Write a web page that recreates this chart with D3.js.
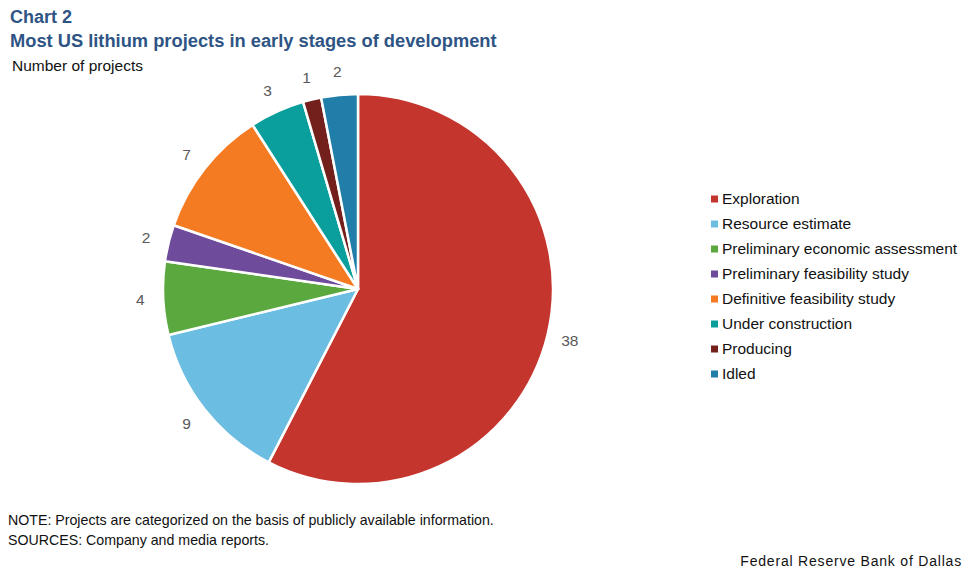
<!DOCTYPE html>
<html>
<head>
<meta charset="utf-8">
<script src="https://cdn.jsdelivr.net/npm/d3@7"></script>
<style>
  body { margin: 0; background: #fff; }
  svg { font-family: "Liberation Sans", Arial, sans-serif; }
</style>
</head>
<body>
<svg id="chart" width="971" height="574"></svg>
<script>
const categories = ["Exploration", "Resource estimate", "Preliminary economic assessment",
  "Preliminary feasibility study", "Definitive feasibility study", "Under construction",
  "Producing", "Idled"];
const projects = [38, 9, 4, 2, 7, 3, 1, 2];
const colors = ["#c4352d", "#6cbde2", "#5ba83f", "#6f4b9c", "#f47b21", "#0a9e9d", "#73201c", "#217ea9"];

const svg = d3.select("#chart");
const cx = 358, cy = 289, r = 195;

// titles
svg.append("text").attr("x", 10).attr("y", 23)
  .attr("font-size", 18).attr("font-weight", "bold").attr("fill", "#2e5485")
  .text("Chart 2");
svg.append("text").attr("x", 10).attr("y", 47)
  .attr("font-size", 18.3).attr("font-weight", "bold").attr("fill", "#2e5485")
  .text("Most US lithium projects in early stages of development");
svg.append("text").attr("x", 12).attr("y", 71)
  .attr("font-size", 15.5).attr("fill", "#111")
  .text("Number of projects");

const data = categories.map((c, i) => ({ name: c, value: projects[i], color: colors[i] }));

const pie = d3.pie().value(d => d.value).sort(null);
const arc = d3.arc().innerRadius(0).outerRadius(r);
const labelArc = d3.arc().innerRadius(r + 23).outerRadius(r + 23);

const g = svg.append("g").attr("transform", `translate(${cx},${cy})`);
const arcs = pie(data);

g.selectAll("path")
  .data(arcs)
  .enter().append("path")
    .attr("d", arc)
    .attr("fill", d => d.data.color)
    .attr("stroke", "#fff")
    .attr("stroke-width", 2.5)
    .attr("stroke-linejoin", "round");

g.selectAll("text.lbl")
  .data(arcs)
  .enter().append("text")
    .attr("class", "lbl")
    .attr("transform", d => `translate(${labelArc.centroid(d)})`)
    .attr("text-anchor", "middle")
    .attr("dy", "0.35em")
    .attr("font-size", 15.5)
    .attr("fill", "#595959")
    .text(d => d.data.value);

// legend
const legend = svg.append("g").attr("transform", "translate(711,199)");
const row = legend.selectAll("g")
  .data(data)
  .enter().append("g")
    .attr("transform", (d, i) => `translate(0,${i * 25})`);
row.append("rect")
  .attr("x", 0).attr("y", -3.5).attr("width", 7).attr("height", 7)
  .attr("fill", d => d.color);
row.append("text")
  .attr("x", 11).attr("dy", "0.35em")
  .attr("font-size", 15.5).attr("fill", "#111")
  .text(d => d.name);

// footer
svg.append("text").attr("x", 8).attr("y", 525)
  .attr("font-size", 14.2).attr("fill", "#111")
  .text("NOTE:  Projects are categorized on the basis of publicly available information.");
svg.append("text").attr("x", 8).attr("y", 545)
  .attr("font-size", 14.2).attr("fill", "#111")
  .text("SOURCES:  Company and media reports.");
svg.append("text").attr("x", 962).attr("y", 566)
  .attr("text-anchor", "end")
  .attr("font-size", 14).attr("fill", "#111").attr("letter-spacing", 0.8)
  .text("Federal Reserve Bank of Dallas");
</script>
</body>
</html>
